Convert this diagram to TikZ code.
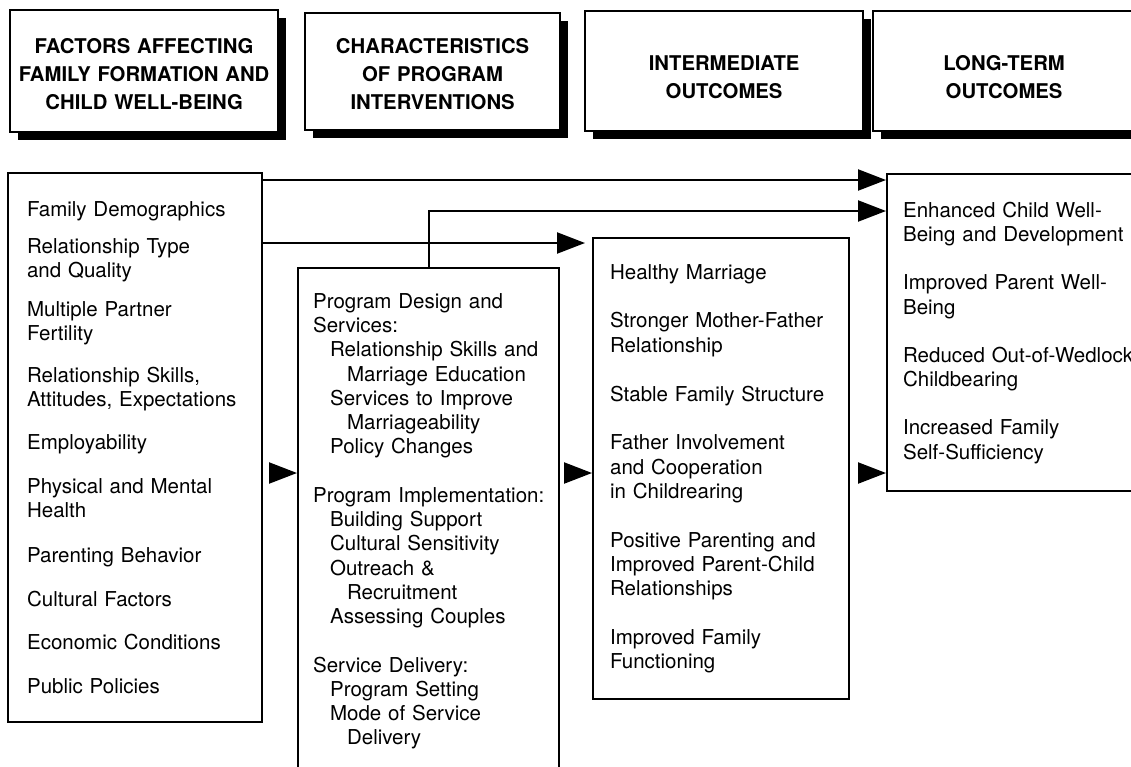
\documentclass[tikz,border=0pt]{standalone}
\usepackage{fontspec}
\setmainfont{TeX Gyre Heros}
\usetikzlibrary{arrows.meta, positioning, shadows}

% extra space between list entries
\newcommand{\gapout}{24.5pt}
% indents in the program list
\newcommand{\indA}{\hspace*{17pt}}
\newcommand{\indB}{\hspace*{34pt}}

\begin{document}
\begin{tikzpicture}[x=1pt,y=-1pt,
    head/.style={draw,line width=2.2pt,fill=white,align=center,anchor=north west,
                 inner sep=0pt,font=\fontsize{20.3}{28}\selectfont\bfseries,
                 drop shadow={shadow xshift=8pt,shadow yshift=-8pt,fill=black,opacity=1}},
    list/.style={draw,line width=2.2pt,align=left,anchor=north west,inner ysep=0pt,
                 font=\fontsize{20.5}{24.3}\selectfont},
    arrow/.style={-{Triangle[length=28pt,width=21pt]},line width=2.2pt}]
  \useasboundingbox (0,0) rectangle (1131,766);
  \clip (0,0) rectangle (1131,766);

  % column headings
  \node[head,text width=268pt,text height=43pt,text depth=79pt] (hfac) at (9,9)
    {FACTORS AFFECTING\\FAMILY FORMATION AND\\CHILD WELL-BEING};
  \node[head,text width=255pt,text height=40pt,text depth=77pt] (hprog) at (304,12)
    {CHARACTERISTICS\\OF PROGRAM\\INTERVENTIONS};
  \node[head,text width=278pt,text height=59pt,text depth=61pt] (hinter) at (584,10)
    {INTERMEDIATE\\OUTCOMES};
  \node[head,text width=262pt,text height=59pt,text depth=61pt] (hlong) at (872,10)
    {LONG-TERM\\OUTCOMES};

  % the four columns
  \node[list,text width=216pt,inner xsep=19pt,text height=43pt,text depth=506pt] (fac) at (7,172)
    {Family Demographics\\[13pt]
     Relationship Type\\and Quality\\[14pt]
     Multiple Partner\\Fertility\\[18pt]
     Relationship Skills,\\Attitudes, Expectations\\[18pt]
     Employability\\[20pt]
     Physical and Mental\\Health\\[20pt]
     Parenting Behavior\\[20pt]
     Cultural Factors\\[19pt]
     Economic Conditions\\[19pt]
     Public Policies};
  \node[list,text width=231pt,inner xsep=15pt,text height=40pt,text depth=465pt] (prog) at (297,267)
    {Program Design and\\Services:\\
     \indA Relationship Skills and\\
     \indB Marriage Education\\
     \indA Services to Improve\\
     \indB Marriageability\\
     \indA Policy Changes\\[24pt]
     \mbox{Program Implementation:}\\
     \indA Building Support\\
     \indA Cultural Sensitivity\\
     \indA Outreach \&\\
     \indB Recruitment\\
     \indA Assessing Couples\\[24pt]
     Service Delivery:\\
     \indA Program Setting\\
     \indA Mode of Service\\
     \indB Delivery};
  \node[list,text width=222pt,inner xsep=17pt,text height=41pt,text depth=420pt] (inter) at (592,237)
    {Healthy Marriage\\[\gapout]
     Stronger Mother-Father\\Relationship\\[\gapout]
     Stable Family Structure\\[\gapout]
     Father Involvement\\and Cooperation\\in Childrearing\\[\gapout]
     Positive Parenting and\\Improved Parent-Child\\Relationships\\[\gapout]
     Improved Family\\Functioning};
  \node[list,text width=238pt,inner xsep=16pt,text height=43pt,text depth=274pt] (long) at (886,173)
    {Enhanced Child Well-\\Being and Development\\[24pt]
     Improved Parent Well-\\Being\\[24pt]
     Reduced Out-of-Wedlock\\Childbearing\\[24pt]
     Increased Family\\Self-Sufficiency};

  % levels of the connectors
  \coordinate (lvlA) at (0,180);
  \coordinate (lvlB) at (0,211);
  \coordinate (lvlC) at (0,243);
  \coordinate (mid)  at (0,473);

  \draw[arrow] (fac.east |- lvlA) -- (long.west |- lvlA);
  \draw[arrow] (prog.north) |- (long.west |- lvlB);
  \draw[arrow,shorten >=7pt] (fac.east |- lvlC) -- (inter.west |- lvlC);
  \draw[arrow,shorten <=6pt] (fac.east |- mid) -- (prog.west |- mid);
  \draw[arrow,shorten <=7pt] (prog.east |- mid) -- (inter.west |- mid);
  \draw[arrow,shorten <=10pt] (inter.east |- mid) -- (long.west |- mid);
\end{tikzpicture}
\end{document}
